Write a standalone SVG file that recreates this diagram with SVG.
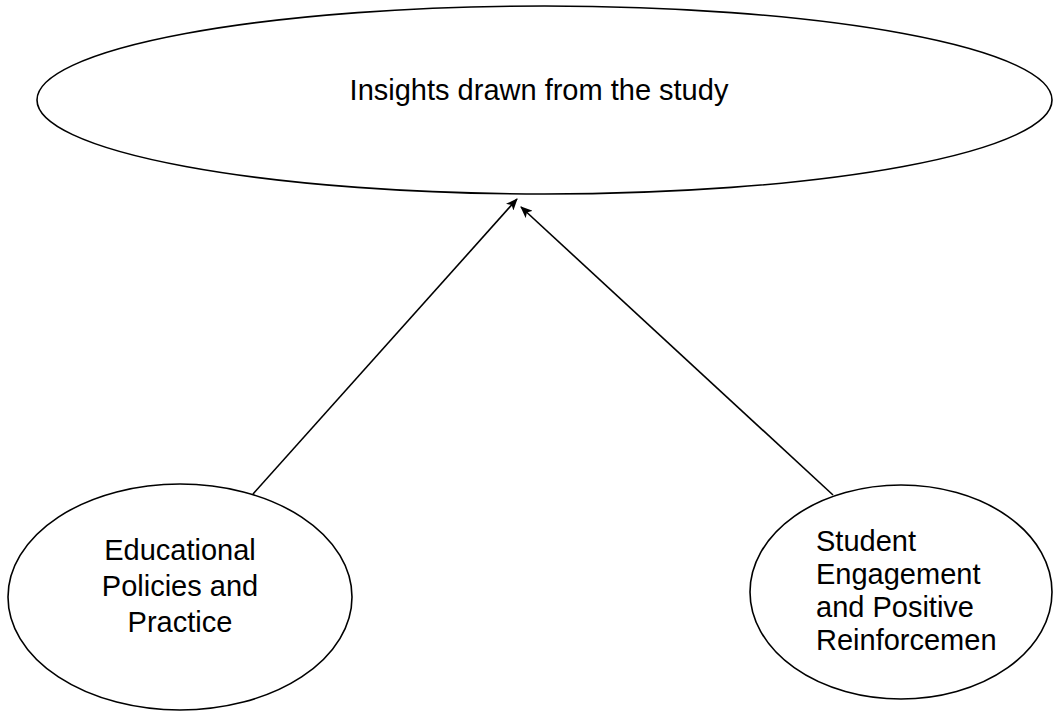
<svg xmlns="http://www.w3.org/2000/svg" width="1055" height="713" viewBox="0 0 1055 713">
<style>
.node ellipse{fill:#fff;stroke:#000;stroke-width:1.6}
.lbl{font-family:"Liberation Sans",Arial,sans-serif;font-size:29px;fill:#000}
.conn line{stroke:#000;stroke-width:1.6}
</style>
<defs>
<marker id="arr" viewBox="0 0 12 10" refX="11" refY="5" markerWidth="12" markerHeight="10" markerUnits="userSpaceOnUse" orient="auto">
<path d="M0,0 L12,5 L0,10 L3,5 z" fill="#000"/>
</marker>
</defs>
<rect width="1055" height="713" fill="#fff"/>
<g id="insights" class="node">
<ellipse cx="544.5" cy="100" rx="507.5" ry="94"/>
<text class="lbl" x="539" y="100" text-anchor="middle">Insights drawn from the study</text>
</g>
<g id="policies" class="node">
<ellipse cx="180" cy="597" rx="172" ry="113"/>
<text class="lbl" text-anchor="middle"><tspan x="180" y="560">Educational</tspan><tspan x="180" y="596">Policies and</tspan><tspan x="180" y="632">Practice</tspan></text>
</g>
<g id="engagement" class="node">
<ellipse cx="901" cy="592" rx="151" ry="107"/>
<text class="lbl"><tspan x="816" y="551">Student</tspan><tspan x="816" y="584">Engagement</tspan><tspan x="816" y="617">and Positive</tspan><tspan x="816" y="650">Reinforcemen</tspan></text>
</g>
<g id="connectors" class="conn">
<line x1="253" y1="494" x2="517" y2="199" marker-end="url(#arr)"/>
<line x1="833" y1="495" x2="521" y2="207" marker-end="url(#arr)"/>
</g>
</svg>
